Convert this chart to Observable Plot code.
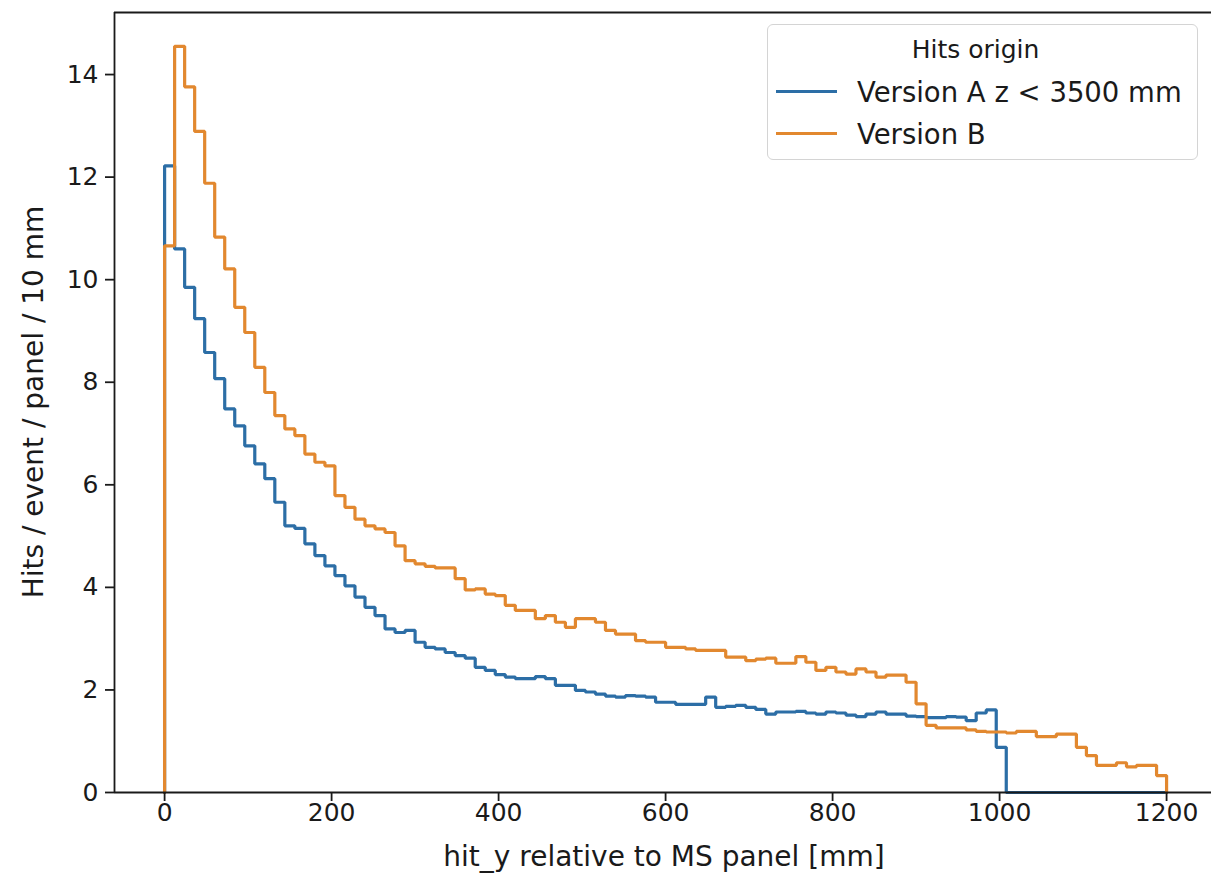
<!DOCTYPE html>
<html>
<head>
<meta charset="utf-8">
<script src="https://cdn.jsdelivr.net/npm/d3@7"></script>
<script src="https://cdn.jsdelivr.net/npm/@observablehq/plot@0.6"></script>
<style>
  html, body { margin: 0; padding: 0; background: #fff; }
  #wrap { position: relative; width: 1211px; height: 883px; overflow: hidden; font-family: "DejaVu Sans", sans-serif; color: #1a1a1a; }
  #legend { position: absolute; left: 767px; top: 24px; width: 431px; height: 136px; box-sizing: border-box;
            border: 1.5px solid #d4d4d4; border-radius: 6px; background: rgba(255,255,255,0.8); font-size: 27.5px; }
  #legend .title { position: absolute; left: 0; right: 14px; top: 10px; text-align: center; line-height: 30px; font-size: 25px; }
  #legend .row { position: absolute; left: 0; right: 0; height: 32px; line-height: 32px; }
  #legend .swatch { position: absolute; left: 8px; top: 14px; width: 61px; height: 3px; }
  #legend .lab { position: absolute; left: 89px; top: 0; white-space: nowrap; }
</style>
</head>
<body>
<div id="wrap"></div>
<script>
// Histogram: 100 bins of 12 mm from 0 to 1200 mm
const binEdges = d3.range(0, 1200, 12);
const histEnd = 1200;

const versionA = [
  12.22, 10.60, 9.85, 9.24, 8.58, 8.07, 7.48, 7.15, 6.76, 6.41,
  6.12, 5.66, 5.20, 5.15, 4.85, 4.62, 4.42, 4.23, 4.03, 3.81,
  3.61, 3.45, 3.19, 3.12, 3.16, 2.93, 2.83, 2.80, 2.73, 2.67,
  2.62, 2.44, 2.38, 2.30, 2.25, 2.22, 2.22, 2.26, 2.22, 2.09,
  2.09, 1.99, 1.96, 1.92, 1.88, 1.86, 1.89, 1.88, 1.86, 1.76,
  1.76, 1.72, 1.72, 1.72, 1.86, 1.66, 1.68, 1.70, 1.66, 1.62,
  1.53, 1.57, 1.57, 1.58, 1.55, 1.53, 1.57, 1.55, 1.51, 1.48,
  1.53, 1.57, 1.53, 1.53, 1.49, 1.48, 1.46, 1.46, 1.48, 1.47,
  1.40, 1.55, 1.61, 0.88, 0, 0, 0, 0, 0, 0,
  0, 0, 0, 0, 0, 0, 0, 0, 0, 0
];
const versionB = [
  10.66, 14.55, 13.76, 12.89, 11.88, 10.83, 10.21, 9.46, 8.97, 8.29,
  7.80, 7.35, 7.09, 6.96, 6.60, 6.44, 6.37, 5.79, 5.56, 5.33,
  5.20, 5.14, 5.07, 4.81, 4.52, 4.46, 4.41, 4.38, 4.38, 4.17,
  3.95, 3.97, 3.87, 3.84, 3.65, 3.55, 3.55, 3.39, 3.45, 3.32,
  3.22, 3.39, 3.39, 3.32, 3.16, 3.09, 3.09, 2.96, 2.93, 2.93,
  2.83, 2.83, 2.80, 2.77, 2.77, 2.77, 2.64, 2.64, 2.57, 2.60,
  2.62, 2.52, 2.52, 2.65, 2.54, 2.38, 2.44, 2.35, 2.31, 2.41,
  2.35, 2.25, 2.29, 2.29, 2.15, 1.73, 1.31, 1.26, 1.26, 1.26,
  1.22, 1.19, 1.18, 1.18, 1.16, 1.19, 1.19, 1.09, 1.09, 1.14,
  1.14, 0.88, 0.72, 0.53, 0.53, 0.58, 0.50, 0.53, 0.53, 0.33
];

const seriesNames = ["Version A z < 3500 mm", "Version B"];
const seriesColors = ["#2c6ea6", "#e2882f"];
const xTicks = [0, 200, 400, 600, 800, 1000, 1200];
const yTicks = [0, 2, 4, 6, 8, 10, 12, 14];
const xLabel = "hit_y relative to MS panel [mm]";
const yLabel = "Hits / event / panel / 10 mm";
const legendTitle = "Hits origin";

const xDomain = [-60, 1253.8];
const yDomain = [0, 15.21];

function stepPoints(values, name) {
  const pts = [{x: binEdges[0], y: 0, s: name}];
  values.forEach((v, i) => pts.push({x: binEdges[i], y: v, s: name}));
  pts.push({x: histEnd, y: values[values.length - 1], s: name});
  pts.push({x: histEnd, y: 0, s: name});
  return pts;
}
const dataA = stepPoints(versionA, seriesNames[0]);
const dataB = stepPoints(versionB, seriesNames[1]);

const spine = {stroke: "#1a1a1a", strokeWidth: 1.8};

const chart = Plot.plot({
  width: 1211,
  height: 883,
  marginLeft: 114,
  marginRight: 0,
  marginTop: 12,
  marginBottom: 91,
  style: {fontFamily: "DejaVu Sans, sans-serif", fontSize: "25px", color: "#1a1a1a", background: "white", overflow: "visible"},
  x: {domain: xDomain},
  y: {domain: yDomain},
  marks: [
    Plot.line(dataA, {x: "x", y: "y", curve: "step-after", stroke: seriesColors[0], strokeWidth: 3.2, strokeLinejoin: "miter"}),
    Plot.line(dataB, {x: "x", y: "y", curve: "step-after", stroke: seriesColors[1], strokeWidth: 3.2, strokeLinejoin: "miter"}),
    Plot.ruleX([xDomain[0]], spine),
    Plot.ruleY([yDomain[0]], spine),
    Plot.ruleY([yDomain[1]], spine),
    Plot.axisX({ticks: xTicks, tickSize: 9, tickPadding: 2, tickFormat: d => String(d), label: null, strokeWidth: 1.8}),
    Plot.axisY({ticks: yTicks, tickSize: 9, tickPadding: 7, tickFormat: d => String(d), label: null, strokeWidth: 1.8})
  ]
});

const wrap = document.getElementById("wrap");
wrap.appendChild(chart);

// axis titles
const svg = d3.select(chart);
svg.append("text")
  .attr("x", 664).attr("y", 866)
  .attr("text-anchor", "middle")
  .attr("font-size", 28)
  .attr("fill", "#1a1a1a")
  .text(xLabel);
svg.append("text")
  .attr("transform", "translate(43,402) rotate(-90)")
  .attr("text-anchor", "middle")
  .attr("font-size", 28)
  .attr("fill", "#1a1a1a")
  .text(yLabel);

// legend
const legend = document.createElement("div");
legend.id = "legend";
const t = document.createElement("div");
t.className = "title";
t.textContent = legendTitle;
legend.appendChild(t);
seriesNames.forEach((name, i) => {
  const row = document.createElement("div");
  row.className = "row";
  row.style.top = (51 + i * 42) + "px";
  const sw = document.createElement("div");
  sw.className = "swatch";
  sw.style.background = seriesColors[i];
  const lab = document.createElement("div");
  lab.className = "lab";
  lab.textContent = name;
  row.appendChild(sw);
  row.appendChild(lab);
  legend.appendChild(row);
});
wrap.appendChild(legend);
</script>
</body>
</html>
